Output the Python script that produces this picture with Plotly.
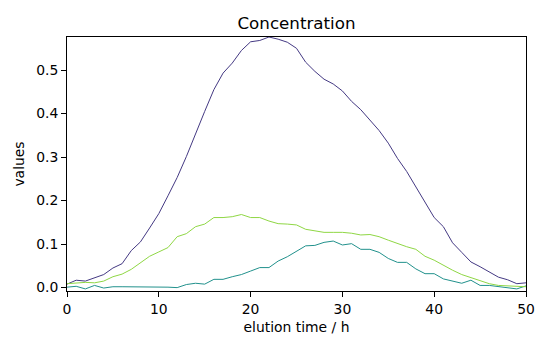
import plotly.graph_objects as go

# elution time in hours
time_h = list(range(51))

# concentration profiles of the three eluted components
conc_a = [0.008, 0.017, 0.015, 0.023, 0.030, 0.045, 0.055, 0.085, 0.105, 0.137,
          0.170, 0.211, 0.253, 0.301, 0.355, 0.405, 0.455, 0.493, 0.516, 0.545,
          0.565, 0.568, 0.576, 0.571, 0.564, 0.550, 0.518, 0.497, 0.479, 0.468,
          0.452, 0.428, 0.409, 0.384, 0.361, 0.332, 0.297, 0.267, 0.232, 0.195,
          0.161, 0.140, 0.103, 0.081, 0.059, 0.048, 0.036, 0.024, 0.018, 0.009,
          0.011]
conc_b = [0.001, 0.003, -0.003, 0.005, -0.001, 0.002, 0.002, 0.002, 0.002, 0.002,
          0.002, 0.001, 0.000, 0.007, 0.010, 0.008, 0.019, 0.019, 0.025, 0.030,
          0.038, 0.046, 0.046, 0.061, 0.071, 0.084, 0.096, 0.097, 0.104, 0.107,
          0.098, 0.101, 0.088, 0.088, 0.081, 0.067, 0.058, 0.058, 0.043, 0.032,
          0.032, 0.020, 0.015, 0.010, 0.017, 0.005, 0.005, 0.002, 0.000, -0.003,
          0.004]
conc_c = [0.009, 0.011, 0.012, 0.011, 0.015, 0.025, 0.031, 0.042, 0.057, 0.072,
          0.082, 0.092, 0.117, 0.124, 0.140, 0.146, 0.161, 0.161, 0.163, 0.168,
          0.161, 0.161, 0.153, 0.147, 0.146, 0.144, 0.134, 0.130, 0.127, 0.127,
          0.127, 0.125, 0.121, 0.122, 0.117, 0.109, 0.101, 0.094, 0.088, 0.072,
          0.063, 0.051, 0.040, 0.030, 0.023, 0.015, 0.009, 0.005, 0.004, 0.004,
          0.002]

series = [("A", conc_a, "#443983"), ("B", conc_b, "#21918c"), ("C", conc_c, "#8fd744")]

x_ticks = [0, 10, 20, 30, 40, 50]
y_ticks = [0.0, 0.1, 0.2, 0.3, 0.4, 0.5]

fig = go.Figure()
for name, vals, color in series:
    fig.add_trace(go.Scatter(x=time_h, y=vals, mode="lines", name=name,
                             line=dict(color=color, width=1)))

font = dict(family="DejaVu Sans", size=13.9, color="black")
axis_common = dict(showline=True, linecolor="black", linewidth=1, mirror=True,
                   ticks="outside", ticklen=5, tickwidth=1, tickcolor="black",
                   showgrid=False, zeroline=False, tickfont=font)

fig.update_layout(
    width=550, height=350,
    margin=dict(l=67, r=24, t=37, b=59),
    paper_bgcolor="white", plot_bgcolor="white",
    showlegend=False,
    font=font,
    title=dict(text="Concentration", x=0.5, xref="paper", xanchor="center",
               y=1 - 23 / 350, yref="container", yanchor="middle",
               font=dict(family="DejaVu Sans", size=16.7, color="black")),
    xaxis=dict(range=[0, 50], tickvals=x_ticks, ticktext=[str(v) for v in x_ticks],
               title=dict(text="elution time / h", standoff=6, font=font), **axis_common),
    yaxis=dict(range=[-0.0078, 0.576], tickvals=y_ticks,
               ticktext=[f"{v:.1f}" for v in y_ticks],
               title=dict(text="values", standoff=8, font=font), **axis_common),
)

fig.write_html("out.html")
